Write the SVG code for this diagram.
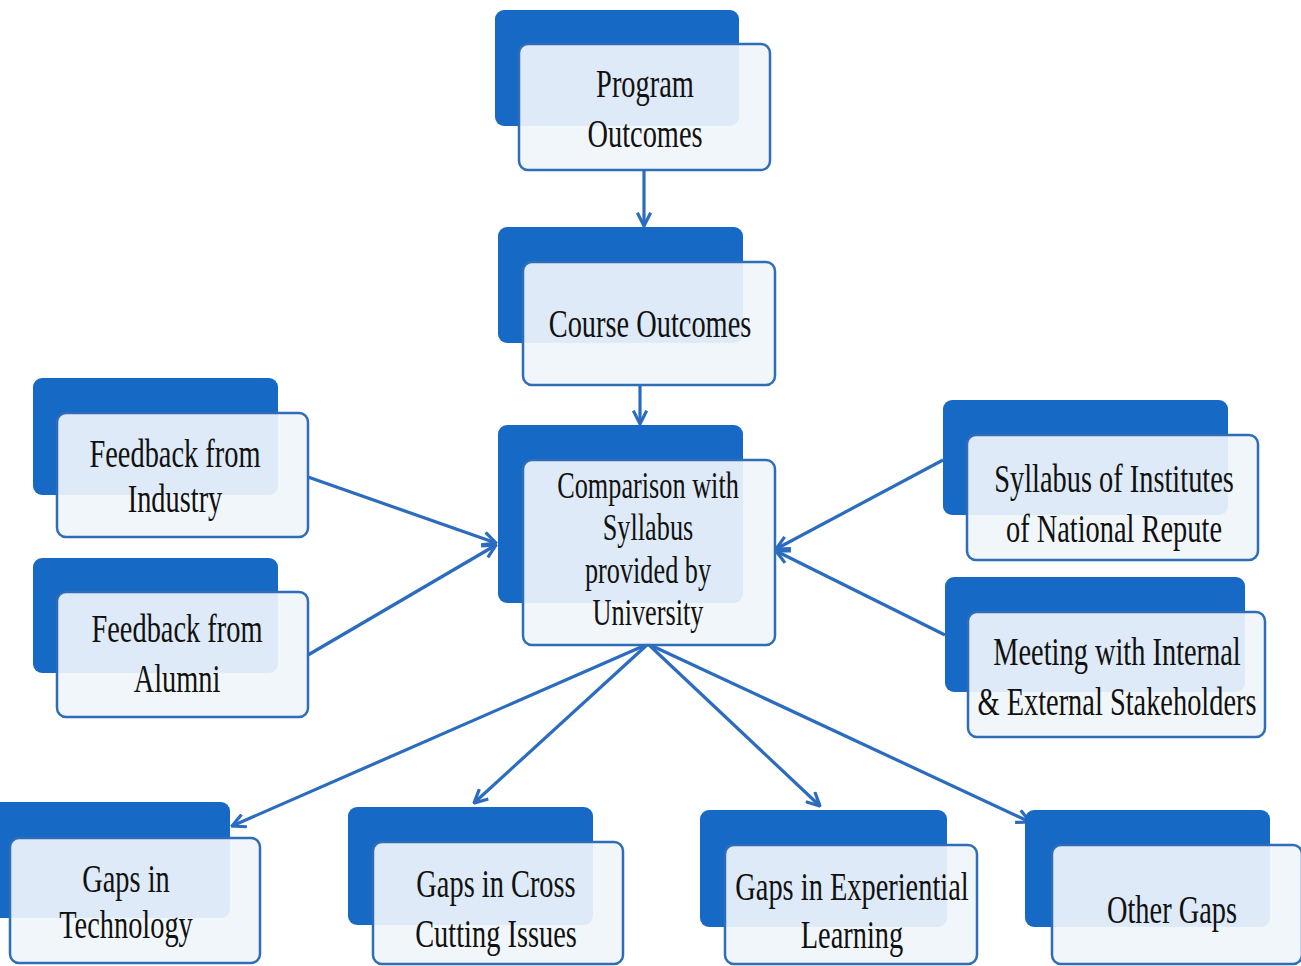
<svg xmlns="http://www.w3.org/2000/svg" width="1301" height="966" viewBox="0 0 1301 966">
  <defs>
    <style>
      .back { fill: #1769c6; }
      .front { fill: #f0f5fb; fill-opacity: 0.92; stroke: #2f6db7; stroke-width: 2.5; }
      .lbl { font-family: "Liberation Serif", "Times New Roman", serif; font-size: 40px; fill: #111111; text-anchor: middle; }
      .small { font-size: 37px; }
      .conn { fill: none; stroke: #2b6cc0; stroke-width: 3.2; marker-end: url(#chev); }
    </style>
    <marker id="chev" markerUnits="userSpaceOnUse" markerWidth="16" markerHeight="16" viewBox="0 0 12 12" refX="11" refY="6" orient="auto">
      <path d="M1,1 L11,6 L1,11" fill="none" stroke="#2b6cc0" stroke-width="2.4" stroke-linejoin="miter"/>
    </marker>
  </defs>

  <rect width="1301" height="966" fill="#ffffff"/>

  <!-- connectors -->
  <g id="connectors">
    <path class="conn" d="M644,170 L644,226"/>
    <path class="conn" d="M640,385 L640,424"/>
    <path class="conn" d="M308,477 L496,543"/>
    <path class="conn" d="M308,655 L496,545"/>
    <path class="conn" d="M943,460 L776,549"/>
    <path class="conn" d="M945,635 L776,551"/>
    <path class="conn" d="M648,644 L232,826"/>
    <path class="conn" d="M648,644 L474,803"/>
    <path class="conn" d="M648,644 L820,806"/>
    <path class="conn" d="M648,644 L1030,822"/>
  </g>

  <g id="program-outcomes">
    <rect class="back" x="495" y="10" width="244" height="116" rx="9"/>
    <rect class="front" x="519" y="44" width="251" height="126" rx="9"/>
    <text class="lbl" transform="translate(645,0) scale(0.71,1)"><tspan x="0" y="97">Program</tspan><tspan x="0" y="147">Outcomes</tspan></text>
  </g>

  <g id="course-outcomes">
    <rect class="back" x="498" y="227" width="245" height="116" rx="9"/>
    <rect class="front" x="523" y="262" width="252" height="123" rx="9"/>
    <text class="lbl" transform="translate(650,0) scale(0.71,1)" x="0" y="337">Course Outcomes</text>
  </g>

  <g id="comparison">
    <rect class="back" x="498" y="425" width="245" height="178" rx="9"/>
    <rect class="front" x="523" y="460" width="252" height="185" rx="9"/>
    <text class="lbl small" transform="translate(648,0) scale(0.71,1)"><tspan x="0" y="498">Comparison with</tspan><tspan x="0" y="540">Syllabus</tspan><tspan x="0" y="583">provided by</tspan><tspan x="0" y="625">University</tspan></text>
  </g>

  <g id="feedback-industry">
    <rect class="back" x="33" y="378" width="245" height="117" rx="9"/>
    <rect class="front" x="57" y="413" width="251" height="124" rx="9"/>
    <text class="lbl" transform="translate(175,0) scale(0.71,1)"><tspan x="0" y="467">Feedback from</tspan><tspan x="0" y="512">Industry</tspan></text>
  </g>

  <g id="feedback-alumni">
    <rect class="back" x="33" y="558" width="245" height="115" rx="9"/>
    <rect class="front" x="57" y="592" width="251" height="125" rx="9"/>
    <text class="lbl" transform="translate(177,0) scale(0.71,1)"><tspan x="0" y="642">Feedback from</tspan><tspan x="0" y="692">Alumni</tspan></text>
  </g>

  <g id="syllabus-institutes">
    <rect class="back" x="943" y="400" width="285" height="115" rx="9"/>
    <rect class="front" x="967" y="435" width="291" height="125" rx="9"/>
    <text class="lbl" transform="translate(1114,0) scale(0.71,1)"><tspan x="0" y="492">Syllabus of Institutes</tspan><tspan x="0" y="542">of National Repute</tspan></text>
  </g>

  <g id="stakeholders">
    <rect class="back" x="945" y="577" width="300" height="115" rx="9"/>
    <rect class="front" x="968" y="612" width="297" height="125" rx="9"/>
    <text class="lbl" transform="translate(1117,0) scale(0.71,1)"><tspan x="0" y="665">Meeting with Internal</tspan><tspan x="0" y="715">&amp; External Stakeholders</tspan></text>
  </g>

  <g id="gaps-technology">
    <rect class="back" x="-15" y="802" width="245" height="116" rx="9"/>
    <rect class="front" x="10" y="838" width="250" height="125" rx="9"/>
    <text class="lbl" transform="translate(126,0) scale(0.71,1)"><tspan x="0" y="892">Gaps in</tspan><tspan x="0" y="938">Technology</tspan></text>
  </g>

  <g id="gaps-cross-cutting">
    <rect class="back" x="348" y="807" width="245" height="118" rx="9"/>
    <rect class="front" x="373" y="842" width="250" height="122" rx="9"/>
    <text class="lbl" transform="translate(496,0) scale(0.71,1)"><tspan x="0" y="897">Gaps in Cross</tspan><tspan x="0" y="947">Cutting Issues</tspan></text>
  </g>

  <g id="gaps-experiential">
    <rect class="back" x="700" y="810" width="247" height="117" rx="9"/>
    <rect class="front" x="725" y="845" width="252" height="119" rx="9"/>
    <text class="lbl" transform="translate(852,0) scale(0.71,1)"><tspan x="0" y="900">Gaps in Experiential</tspan><tspan x="0" y="948">Learning</tspan></text>
  </g>

  <g id="other-gaps">
    <rect class="back" x="1025" y="810" width="245" height="117" rx="9"/>
    <rect class="front" x="1052" y="845" width="250" height="119" rx="9"/>
    <text class="lbl" transform="translate(1172,0) scale(0.71,1)" x="0" y="923">Other Gaps</text>
  </g>
</svg>
